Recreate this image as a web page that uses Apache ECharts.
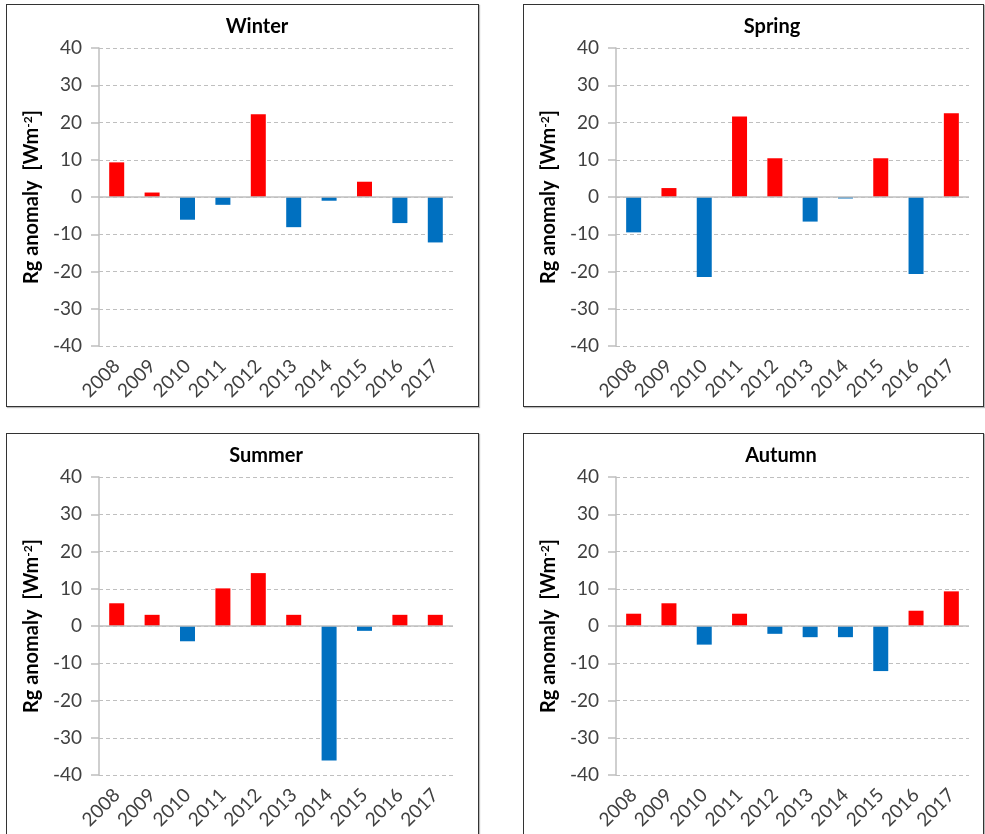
<!DOCTYPE html>
<html>
<head>
<meta charset="utf-8">
<script src="https://cdn.jsdelivr.net/npm/echarts@6/dist/echarts.min.js"></script>
<style>
body { margin: 0; background: #fff; }
.panel {
  position: absolute;
  box-sizing: border-box;
  border: 1px solid #333;
  box-shadow: 1px 1px 1px #bbb;
  background: #fff;
}
</style>
</head>
<body>
<div id="winter" class="panel" style="left:6px;top:4px;width:473px;height:403px"></div>
<div id="spring" class="panel" style="left:523px;top:4px;width:461px;height:403px"></div>
<div id="summer" class="panel" style="left:6px;top:433px;width:473px;height:403px"></div>
<div id="autumn" class="panel" style="left:523px;top:433px;width:461px;height:403px"></div>
<script>
var years = ["2008", "2009", "2010", "2011", "2012", "2013", "2014", "2015", "2016", "2017"];
var winter = [9.3, 1.2, -6.1, -2.1, 22.2, -8.1, -1.0, 4.1, -7.0, -12.2];
var spring = [-9.5, 2.4, -21.5, 21.6, 10.4, -6.6, -0.4, 10.4, -20.7, 22.5];
var summer = [6.1, 3.0, -4.1, 10.1, 14.2, 3.0, -36.1, -1.3, 3.0, 3.0];
var autumn = [3.3, 6.1, -5.0, 3.3, -2.1, -3.0, -3.0, -12.1, 4.1, 9.3];
var yMin = -40, yMax = 40, yStep = 10;

var font = "Lato";
var gridColor = "#bfbfbf";
var labelColor = "#404040";

function drawPanel(id, title, values, titleX, gridRight) {
  var myChart = echarts.init(document.getElementById(id));
  myChart.setOption({
    animation: false,
    textStyle: { fontFamily: font },
    title: {
      text: title,
      left: titleX,
      top: 12,
      padding: 0,
      textAlign: "center",
      textStyle: { fontFamily: font, fontSize: 20, fontWeight: "bold", color: "#000" }
    },
    grid: { left: 92, right: gridRight, top: 43, height: 298 },
    xAxis: {
      type: "category",
      data: years,
      axisLine: { show: false },
      axisTick: { show: false },
      axisLabel: {
        interval: 0,
        rotate: 45,
        margin: 17,
        fontSize: 19,
        fontFamily: font,
        color: labelColor
      }
    },
    yAxis: {
      type: "value",
      min: yMin,
      max: yMax,
      interval: yStep,
      name: "{a|Rg anomaly  [Wm}{s|-2}{a|]}",
      nameLocation: "middle",
      nameGap: 49,
      nameRotate: 90,
      nameTextStyle: {
        fontFamily: font,
        fontSize: 20,
        fontWeight: "bold",
        color: "#000",
        rich: {
          a: { fontFamily: font, fontSize: 20, fontWeight: "bold", color: "#000" },
          s: { fontFamily: font, fontSize: 12, fontWeight: "bold", color: "#000", verticalAlign: "top" }
        }
      },
      axisLine: { show: true, lineStyle: { color: gridColor, width: 1.5 } },
      axisTick: { show: true, length: 8, lineStyle: { color: gridColor, width: 1.5 } },
      axisLabel: { fontSize: 19, fontFamily: font, color: labelColor, margin: 17 },
      splitLine: {
        show: true,
        lineStyle: { color: gridColor, type: [4, 3], width: 1 }
      }
    },
    series: [
      {
        type: "bar",
        barWidth: 15,
        data: values,
        itemStyle: {
          color: function (p) {
            return p.value >= 0 ? "#FF0000" : "#0070C0";
          }
        },
        markLine: {
          silent: true,
          symbol: ["none", "none"],
          label: { show: false },
          lineStyle: { color: gridColor, type: "solid", width: 1.5 },
          data: [{ yAxis: 0 }]
        }
      }
    ]
  });
}

drawPanel("winter", "Winter", winter, 250, 25);
drawPanel("spring", "Spring", spring, 248, 14);
drawPanel("summer", "Summer", summer, 259, 25);
drawPanel("autumn", "Autumn", autumn, 257, 14);
</script>
</body>
</html>
